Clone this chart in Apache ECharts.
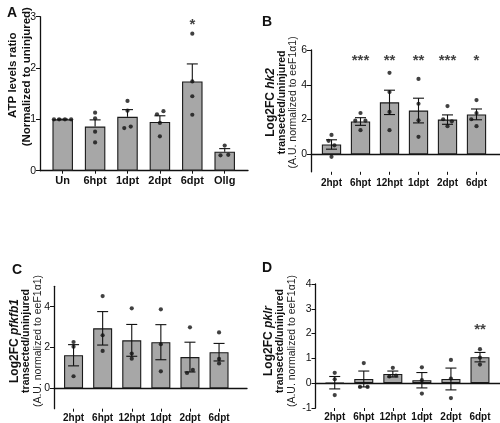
<!DOCTYPE html>
<html>
<head>
<meta charset="utf-8">
<script src="https://cdn.jsdelivr.net/npm/echarts@6/dist/echarts.min.js"></script>
<style>
  html, body { margin: 0; padding: 0; background: #fff; }
  #main { width: 500px; height: 423px; }
</style>
</head>
<body>
<div id="main"></div>
<script>
// categories
const catsA = ['Un', '6hpt', '1dpt', '2dpt', '6dpt', 'Ollg'];
const catsT = ['2hpt', '6hpt', '12hpt', '1dpt', '2dpt', '6dpt'];

// A - ATP levels ratio
const meanA = [1.0, 0.86, 1.05, 0.95, 1.74, 0.37];
const semA = [0.005, 0.13, 0.14, 0.12, 0.34, 0.06];
const dotsA = [[1, 1, 1, 1], [1.13, 1.02, 0.76, 0.55], [1.36, 1.17, 0.83, 0.86], [1.10, 1.16, 0.93, 0.67], [2.67, 1.74, 1.45, 1.09], [0.49, 0.30, 0.31]];
const jitterA = [[-0.27, -0.11, 0.07, 0.26], [0, 0, 0, 0], [0, 0, -0.1, 0.1], [-0.09, 0.11, 0, 0], [0, 0, 0, 0], [0, -0.13, 0.11]];
const starsA = ['', '', '', '', '*', ''];
const starLevelA = 2.85;

// B - hk2
const meanB = [0.57, 1.89, 2.99, 2.52, 2.0, 2.30];
const semB = [0.27, 0.22, 0.70, 0.71, 0.27, 0.31];
const dotsB = [[1.12, 0.78, 0.52, -0.14], [2.38, 1.94, 1.94, 1.39], [4.69, 3.58, 2.44, 1.39], [4.34, 2.91, 1.96, 1.01], [2.78, 2.02, 1.90, 1.62], [3.12, 2.38, 2.02, 1.62]];
const jitterB = [[0, -0.1, 0.1, 0], [0, -0.18, 0.17, 0], [0, 0, 0, 0], [0, 0, 0, 0], [0, -0.15, 0.15, 0], [0, 0, -0.18, 0]];
const starsB = ['', '***', '**', '**', '***', '*'];
const starLevelB = 5.35;

// C - pfkfb1
const meanC = [1.62, 2.94, 2.35, 2.26, 1.53, 1.77];
const semC = [0.52, 0.82, 0.78, 0.86, 0.73, 0.43];
const dotsC = [[2.27, 2.04, 0.59], [4.52, 2.60, 1.83], [3.92, 1.70, 1.45], [3.87, 2.16, 0.83], [2.99, 0.75, 0.90], [2.74, 1.44, 1.22]];
const jitterC = [[0, 0, 0], [0, 0, 0], [0, 0, 0], [0, 0, 0], [0, -0.1, 0.1], [0, 0, 0]];
const starsC = ['', '', '', '', '', ''];
const starLevelC = 4.5;

// D - pklr
const meanD = [0.02, 0.17, 0.37, 0.12, 0.17, 1.05];
const semD = [0.25, 0.32, 0.12, 0.31, 0.44, 0.19];
const dotsD = [[0.42, 0.16, -0.48], [0.81, -0.15, -0.15], [0.62, 0.27, 0.31], [0.64, 0.12, -0.42], [0.94, 0.19, -0.60], [1.37, 1.03, 0.75]];
const jitterD = [[0, 0, 0], [0, -0.13, 0.13], [0, -0.12, 0.11], [0, 0, 0], [0, 0, 0], [0, 0, 0]];
const starsD = ['', '', '', '', '', '**'];
const starLevelD = 2.15;

const FONT = '"Liberation Sans", Arial, sans-serif';
const INK = '#111';

const option = {
  animation: false,
  textStyle: { fontFamily: FONT },
  title: [],
  grid: [],
  xAxis: [],
  yAxis: [],
  series: []
};

function errRender(upOnly) {
  return function (params, api) {
    const i = api.value(0);
    const m = api.value(1);
    const e = api.value(2);
    const top = api.coord([i, m + e]);
    const bot = api.coord([i, upOnly ? m : m - e]);
    const hw = 5.5;
    const st = { stroke: INK, lineWidth: 1.1 };
    const kids = [
      { type: 'line', shape: { x1: top[0], y1: top[1], x2: bot[0], y2: bot[1] }, style: st },
      { type: 'line', shape: { x1: top[0] - hw, y1: top[1], x2: top[0] + hw, y2: top[1] }, style: st }
    ];
    if (!upOnly) {
      kids.push({ type: 'line', shape: { x1: bot[0] - hw, y1: bot[1], x2: bot[0] + hw, y2: bot[1] }, style: st });
    }
    return { type: 'group', children: kids };
  };
}

function addPanel(p) {
  const g = option.grid.length;
  const x = option.xAxis.length;
  const y = option.yAxis.length;

  option.title.push({ text: p.letter, left: p.letterPos[0], top: p.letterPos[1],
    textStyle: { fontSize: 14, fontWeight: 'bold', color: INK, fontFamily: FONT } });

  // frame: y axis + zero line
  option.grid.push({ left: p.axisX, top: p.top, width: p.lineW, height: p.h, outerBoundsMode: 'none' });
  // bars
  option.grid.push({ left: p.barL, top: p.top, width: p.barW, height: p.h, outerBoundsMode: 'none' });

  option.xAxis.push({ gridIndex: g, type: 'value', min: 0, max: 1,
    axisLine: { show: true, onZero: true, lineStyle: { color: INK, width: 1.3 } },
    axisTick: { show: false }, axisLabel: { show: false }, splitLine: { show: false } });
  option.xAxis.push({ gridIndex: g + 1, type: 'category', data: p.cats, position: 'bottom',
    axisLine: { show: false, onZero: false },
    axisTick: { show: true, alignWithLabel: true, length: 3, lineStyle: { color: INK } },
    axisLabel: { margin: p.catMargin, fontSize: p.catSize, fontWeight: 'bold', color: INK, interval: 0 },
    splitLine: { show: false } });
  option.xAxis.push({ gridIndex: g + 1, type: 'value', min: -0.5, max: 5.5, show: false });

  option.yAxis.push({ gridIndex: g, type: 'value', min: p.yMin, max: p.yMax,
    name: p.name, nameLocation: 'middle', nameRotate: 90, nameGap: p.nameGap,
    nameMoveOverlap: false,
    nameTextStyle: { rich: p.rich, padding: [0, 0, 0, p.nameShift] },
    axisLine: { show: true, lineStyle: { color: INK, width: 1.3 } },
    axisTick: { show: true, length: 4, lineStyle: { color: INK }, customValues: p.ticks },
    axisLabel: { margin: 4, fontSize: p.tickSize, color: INK, customValues: p.ticks,
      showMinLabel: true, showMaxLabel: true },
    splitLine: { show: false } });
  option.yAxis.push({ gridIndex: g + 1, type: 'value', min: p.yMin, max: p.yMax, show: false });

  option.series.push({ type: 'bar', xAxisIndex: x + 1, yAxisIndex: y + 1, data: p.mean,
    barWidth: p.barPx, itemStyle: { color: '#a7a7a7', borderColor: '#1a1a1a', borderWidth: 1.1 }, z: 2 });

  option.series.push({ type: 'custom', xAxisIndex: x + 1, yAxisIndex: y + 1,
    renderItem: errRender(p.upOnly), encode: { x: 0, y: 1 },
    data: p.mean.map((m, i) => [i, m, p.sem[i]]), z: 3 });

  const pts = [];
  p.dots.forEach((grp, i) => grp.forEach((v, k) => pts.push([i + p.jitter[i][k], v])));
  option.series.push({ type: 'scatter', xAxisIndex: x + 2, yAxisIndex: y + 1, data: pts,
    symbol: 'circle', symbolSize: 4.2, itemStyle: { color: INK }, z: 4 });

  const starPts = [];
  p.stars.forEach((s, i) => { if (s) starPts.push({ value: [i, p.starLevel], txt: s }); });
  option.series.push({ type: 'scatter', xAxisIndex: x + 1, yAxisIndex: y + 1, data: starPts,
    symbolSize: 0, z: 5,
    label: { show: true, position: 'inside', formatter: (q) => q.data.txt,
      fontSize: 15, fontWeight: 'bold', color: INK, fontFamily: FONT } });
}

const richTwo = {
  b1: { fontSize: 11.5, fontWeight: 'bold', color: INK, lineHeight: 14, fontFamily: FONT, padding: [0, 0, 0, 3] },
  b: { fontSize: 11.5, fontWeight: 'bold', color: INK, lineHeight: 14, fontFamily: FONT }
};
const richThree = {
  h: { fontSize: 12, fontWeight: 'bold', color: INK, lineHeight: 11.5, fontFamily: FONT },
  hi: { fontSize: 12, fontWeight: 'bold', fontStyle: 'italic', color: INK, lineHeight: 11.5, fontFamily: FONT },
  b: { fontSize: 10.5, fontWeight: 'bold', color: INK, lineHeight: 11.5, fontFamily: FONT },
  n: { fontSize: 10.5, color: '#222', lineHeight: 11.5, fontFamily: FONT }
};

function geneName(gene) {
  return '{h|Log2FC }{hi|' + gene + '}\n{b|transected/uninjured}\n{n|(A.U. normalized to eeF1\u03b11)}';
}

addPanel({
  letter: 'A', letterPos: [2, 1], cats: catsA, mean: meanA, sem: semA, dots: dotsA, jitter: jitterA,
  stars: starsA, starLevel: starLevelA, upOnly: true,
  axisX: 40, top: 16.7, h: 154, lineW: 208, barL: 46.5, barW: 194.4, barPx: 20.5,
  yMin: 0, yMax: 3, ticks: [0, 1, 2, 3], tickSize: 10.5, catSize: 11, catMargin: 5,
  name: '{b1|ATP levels ratio}\n{b|(Normalized to uninjured)}', rich: richTwo, nameGap: 6, nameShift: 34
});

addPanel({
  letter: 'B', letterPos: [257, 10], cats: catsT, mean: meanB, sem: semB, dots: dotsB, jitter: jitterB,
  stars: starsB, starLevel: starLevelB, upOnly: false,
  axisX: 311, top: 50, h: 121.8, lineW: 189, barL: 317, barW: 174, barPx: 19.3,
  yMin: -1, yMax: 6, ticks: [0, 2, 4, 6], tickSize: 10.5, catSize: 10, catMargin: 6,
  name: geneName('hk2'), rich: richThree, nameGap: 12, nameShift: 17
});

addPanel({
  letter: 'C', letterPos: [7, 258], cats: catsT, mean: meanC, sem: semC, dots: dotsC, jitter: jitterC,
  stars: starsC, starLevel: starLevelC, upOnly: false,
  axisX: 54, top: 286.3, h: 122.4, lineW: 193, barL: 59, barW: 174.6, barPx: 19,
  yMin: -1, yMax: 5, ticks: [0, 2, 4], tickSize: 10.5, catSize: 10, catMargin: 4.5,
  name: geneName('pfkfb1'), rich: richThree, nameGap: 10.5, nameShift: 13
});

addPanel({
  letter: 'D', letterPos: [257, 256], cats: catsT, mean: meanD, sem: semD, dots: dotsD, jitter: jitterD,
  stars: starsD, starLevel: starLevelD, upOnly: false,
  axisX: 315.5, top: 284, h: 124, lineW: 184.5, barL: 320.2, barW: 174.3, barPx: 19,
  yMin: -1, yMax: 4, ticks: [-1, 0, 1, 2, 3, 4], tickSize: 10.5, catSize: 10, catMargin: 4.5,
  name: geneName('pklr'), rich: richThree, nameGap: 18, nameShift: 10
});

const chart = echarts.init(document.getElementById('main'));
chart.setOption(option);
window.addEventListener('resize', function () {
  chart.resize();
});
</script>
</body>
</html>
